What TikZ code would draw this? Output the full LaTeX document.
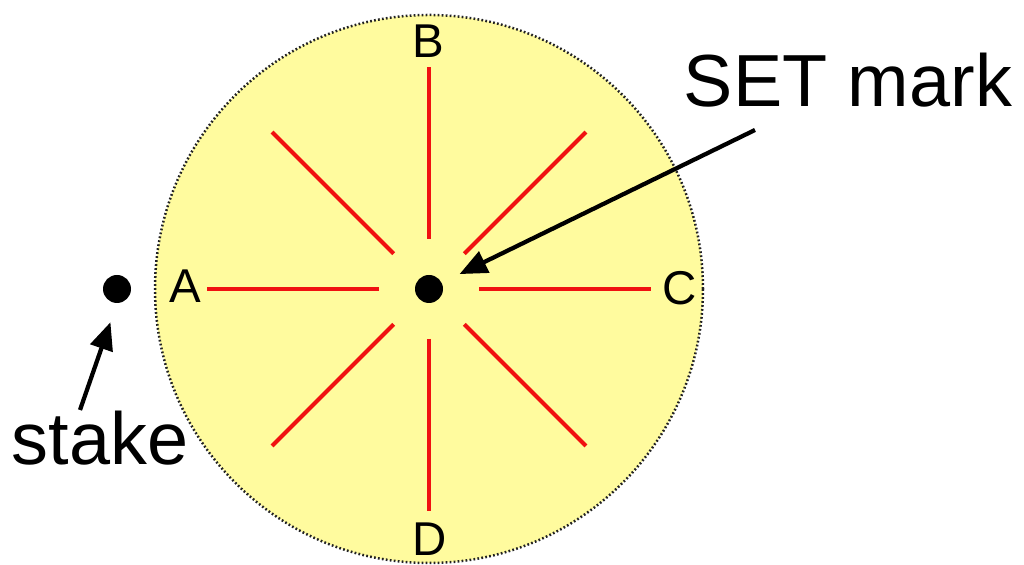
\documentclass[tikz,border=0pt]{standalone}
\usepackage{fontspec}
\setmainfont{Liberation Sans}
\usetikzlibrary{arrows.meta}
\definecolor{c1}{HTML}{000000}
\definecolor{c2}{HTML}{F01010}
\definecolor{c3}{HTML}{FFFB9E}
\definecolor{edgecolor}{HTML}{222222}

\begin{document}
\begin{tikzpicture}[
    every node/.style={text=c1},
    big/.style={font=\fontsize{42}{48}\selectfont, inner sep=0pt},
    letter/.style={font=\fontsize{27}{32}\selectfont, inner sep=0pt},
    spoke/.style={c2, line width=0.08cm},
    dot/.style={circle, fill=c1, minimum size=0.56cm, inner sep=0pt},
    pointer/.style={c1, line width=0.085cm, -{Triangle[length=0.55cm, width=0.46cm]}},
]
\useasboundingbox (0, 0) rectangle (20.48, 11.30);

% ---------------------------------------------------------------- the disc
\fill[c3] (8.58, 5.52) circle (5.48);
\draw[edgecolor, line width=0.05cm, dash pattern=on 0.035cm off 0.045cm]
    (8.58, 5.52) circle (5.48);

\node[dot] (mark) at (8.58, 5.52) {};
\node[dot] (stake) at (2.34, 5.52) {};

% eight spokes
\foreach \a in {0, 45, ..., 315}{
    \draw[spoke] ([shift={(\a:1.0)}]mark.center) -- ([shift={(\a:4.44)}]mark.center);
}

% ---------------------------------------------------------------- the letters
\node[letter] (la) at (3.70, 5.58) {A};
\node[letter] (lb) at (8.56, 10.48) {B};
\node[letter] (lc) at (13.60, 5.54) {C};
\node[letter] (ld) at (8.60, 0.52) {D};

% ---------------------------------------------------------------- the labels
\node[big] (setlbl) at (16.96, 9.70) {SET mark};
\node[big] (stakelbl) at (2.00, 2.54) {stake};

\coordinate (settail) at (15.10, 8.70);
\coordinate (staketail) at (1.60, 3.10);
\draw[pointer, shorten >=0.68cm] (settail) -- (mark.center);
\draw[pointer, shorten >=0.40cm] (staketail) -- (stake.south);
\end{tikzpicture}
\end{document}
